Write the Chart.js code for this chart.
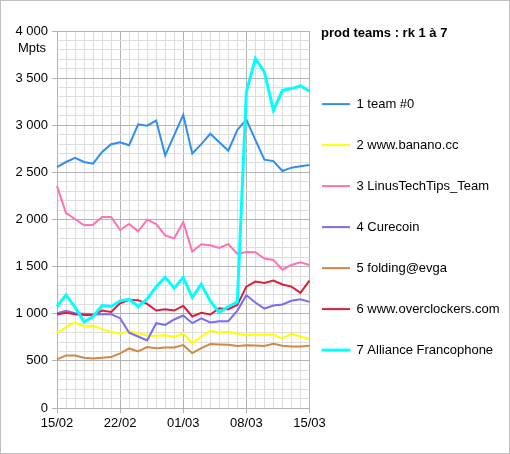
<!DOCTYPE html>
<html>
<head>
<meta charset="utf-8">
<script src="https://cdn.jsdelivr.net/npm/chart.js@4/dist/chart.umd.min.js"></script>
<style>
  html, body { margin: 0; padding: 0; background: #fff; }
  #wrap { width: 508px; height: 452px; border: 1px solid #c0c0c0; }
</style>
</head>
<body>
<div id="wrap"><canvas id="chart" width="508" height="452"></canvas></div>
<script>
// days, 15/02 -> 15/03
const dates = ['15/02', '16/02', '17/02', '18/02', '19/02', '20/02', '21/02', '22/02', '23/02', '24/02',
  '25/02', '26/02', '27/02', '28/02', '01/03', '02/03', '03/03', '04/03', '05/03', '06/03', '07/03',
  '08/03', '09/03', '10/03', '11/03', '12/03', '13/03', '14/03', '15/03'];

const team0 = [2557, 2610, 2653, 2610, 2592, 2717, 2798, 2820, 2788, 3010, 2996, 3050, 2680, 2895, 3110,
  2700, 2800, 2910, 2820, 2730, 2950, 3060, 2845, 2635, 2620, 2515, 2550, 2565, 2578];
const banano = [794, 858, 907, 865, 872, 840, 808, 787, 819, 794, 766, 766, 773, 755, 791,
  688, 759, 819, 801, 808, 787, 773, 777, 777, 777, 741, 787, 759, 731];
const linus = [2354, 2069, 2005, 1938, 1945, 2026, 2026, 1889, 1952, 1874, 1998, 1952, 1832, 1800, 1973,
  1659, 1737, 1726, 1698, 1740, 1634, 1656, 1652, 1585, 1571, 1468, 1518, 1546, 1518];
const curecoin = [1006, 1031, 1006, 999, 992, 995, 995, 953, 798, 759, 717, 900, 882, 939, 981,
  900, 950, 907, 921, 921, 1034, 1197, 1119, 1055, 1087, 1098, 1137, 1154, 1126];
const evga = [515, 558, 558, 533, 526, 533, 540, 579, 632, 600, 646, 635, 642, 642, 667,
  582, 635, 678, 674, 671, 657, 667, 664, 657, 681, 660, 653, 653, 660];
const overclockers = [992, 1010, 995, 988, 988, 1034, 1020, 1112, 1147, 1144, 1105, 1034, 1048, 1034, 1084,
  971, 1010, 992, 1059, 1048, 1094, 1288, 1341, 1327, 1352, 1310, 1288, 1221, 1352];
const alliance = [1077, 1200, 1070, 914, 971, 1087, 1077, 1137, 1154, 1077, 1158, 1288, 1387, 1271, 1387,
  1172, 1313, 1133, 1013, 1077, 1123, 3353, 3707, 3565, 3159, 3371, 3389, 3417, 3364];

const teamNames = ['1 team #0', '2 www.banano.cc', '3 LinusTechTips_Team', '4 Curecoin',
  '5 folding@evga', '6 www.overclockers.com', '7 Alliance Francophone'];
const teamColors = ['#2f8ff0', '#ffff00', '#ff70b4', '#7b6cf0', '#d08848', '#dc1e3c', '#00ffff'];
const series = [team0, banano, linus, curecoin, evga, overclockers, alliance];

const FONT = 'Liberation Sans, Arial, sans-serif';
const MAJOR = '#b3b3b3';
const MINOR = '#dddddd';

function fmtThousands(v) {
  if (v < 1000) return String(v);
  return Math.floor(v / 1000) + ' ' + String(v % 1000).padStart(3, '0');
}

// "Mpts" unit label above the y axis
const unitLabel = {
  id: 'unitLabel',
  afterDraw(chart) {
    const ctx = chart.ctx;
    ctx.save();
    ctx.font = '13px ' + FONT;
    ctx.fillStyle = '#000';
    ctx.textAlign = 'center';
    ctx.textBaseline = 'middle';
    ctx.fillText('Mpts', 31, 47.5);
    ctx.restore();
  }
};

// legend column starts a bit right of the plot, like the original
const legendShift = {
  id: 'legendShift',
  afterLayout(chart) {
    const lg = chart.legend;
    lg.left = 320;
    lg.right = chart.width;
    lg.width = lg.right - lg.left;
  }
};

const ctx = document.getElementById('chart').getContext('2d');
new Chart(ctx, {
  type: 'line',
  data: {
    labels: dates,
    datasets: series.map((data, i) => ({
      label: teamNames[i],
      data: data,
      borderColor: teamColors[i],
      backgroundColor: teamColors[i],
      borderWidth: i === 6 ? 3 : 2,
      pointRadius: 0,
      tension: 0,
      order: -i
    }))
  },
  options: {
    responsive: false,
    animation: false,
    layout: { padding: { top: 10, right: 11, bottom: 0, left: 0 } },
    plugins: {
      tooltip: { enabled: false },
      legend: {
        position: 'right',
        align: 'start',
        maxWidth: 199,
        title: {
          display: true,
          position: 'start',
          text: 'prod teams : rk 1 à 7',
          color: '#000',
          font: { family: FONT, size: 13, weight: 'bold' },
          padding: { top: 16, bottom: 54 }
        },
        labels: {
          color: '#000',
          font: { family: FONT, size: 13, lineHeight: '40px' },
          boxWidth: 28,
          boxHeight: 2,
          padding: 1,
          sort: (a, b) => a.datasetIndex - b.datasetIndex,
          generateLabels: (chart) => {
            const items = Chart.defaults.plugins.legend.labels.generateLabels(chart);
            return items.map(it => {
              const c = teamColors[it.datasetIndex];
              it.text = [it.text];
              it.fillStyle = c;
              it.strokeStyle = c;
              it.lineWidth = it.datasetIndex === 6 ? 1 : 0;
              return it;
            });
          }
        }
      }
    },
    scales: {
      x: {
        offset: false,
        afterFit: (s) => { s.height = 45; },
        border: { color: MAJOR },
        grid: {
          color: (c) => (c.index % 7 === 0 ? MAJOR : MINOR),
          tickColor: (c) => (c.index % 7 === 0 ? MAJOR : 'rgba(0,0,0,0)'),
          tickLength: 5
        },
        ticks: {
          autoSkip: false,
          maxRotation: 0,
          padding: 3,
          color: '#000',
          font: { family: FONT, size: 13 },
          callback: function (value, index) {
            return index % 7 === 0 ? dates[index] : '';
          }
        }
      },
      y: {
        min: 0,
        max: 4000,
        afterFit: (s) => { s.width = 56; s.paddingTop = 30; },
        border: { color: MAJOR },
        grid: {
          color: (c) => (c.tick && c.tick.value % 500 === 0 ? MAJOR : MINOR),
          tickColor: (c) => (c.tick && c.tick.value % 500 === 0 ? MAJOR : 'rgba(0,0,0,0)'),
          tickLength: 5
        },
        ticks: {
          stepSize: 100,
          autoSkip: false,
          padding: 4,
          color: '#000',
          font: { family: FONT, size: 13 },
          callback: (v) => (v % 500 === 0 ? fmtThousands(v) : '')
        }
      }
    }
  },
  plugins: [unitLabel, legendShift]
});
</script>
</body>
</html>
